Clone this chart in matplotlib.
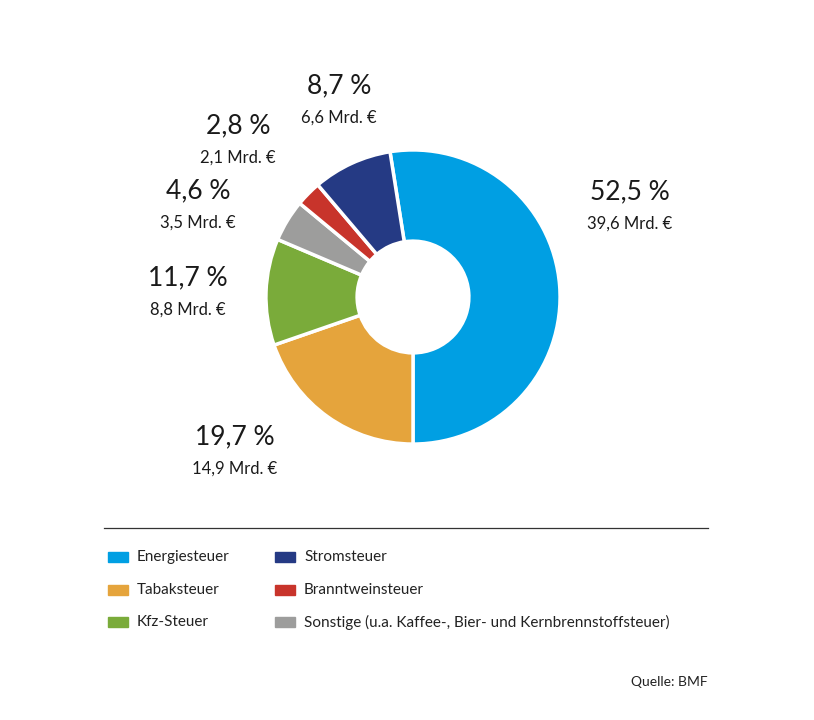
import matplotlib
matplotlib.use("Agg")
import matplotlib.pyplot as plt
from matplotlib.patches import Rectangle

categories = ["Energiesteuer", "Tabaksteuer", "Kfz-Steuer", "Sonstige (u.a. Kaffee-, Bier- und Kernbrennstoffsteuer)", "Branntweinsteuer", "Stromsteuer"]
shares = [52.5, 19.7, 11.7, 4.6, 2.8, 8.7]
pct_labels = ["52,5 %", "19,7 %", "11,7 %", "4,6 %", "2,8 %", "8,7 %"]
amount_labels = ["39,6 Mrd. €", "14,9 Mrd. €", "8,8 Mrd. €", "3,5 Mrd. €", "2,1 Mrd. €", "6,6 Mrd. €"]
colors = ["#009FE3", "#E5A43C", "#7AAB3A", "#9D9D9C", "#C8342B", "#253A84"]

plt.rcParams['font.family'] = ['Lato', 'DejaVu Sans']
W, H = 814, 720
fig = plt.figure(figsize=(W/100, H/100), dpi=100)

def fx(x): return x / W
def fy(y): return 1 - y / H

ax = fig.add_axes([fx(263), fy(447), 300/W, 300/H])
ax.pie(shares, colors=colors, startangle=99, counterclock=False, radius=1,
       wedgeprops=dict(width=0.62, edgecolor="white", linewidth=2.5))
ax.set_xlim(-1.02, 1.02); ax.set_ylim(-1.02, 1.02); ax.set_aspect("equal"); ax.axis("off")

# label positions (pixel centres of the percentage text) and alignment
pos = [(630, 192, "center"), (235, 437, "center"), (188, 278, "center"),
       (198, 191, "center"), (238, 126, "center"), (339, 86, "center")]
for (x, y, ha), p, a in zip(pos, pct_labels, amount_labels):
    fig.text(fx(x), fy(y), p, ha=ha, va="center", fontsize=19, color="#1a1a1a")
    fig.text(fx(x), fy(y + 32), a, ha=ha, va="center", fontsize=12, color="#1a1a1a")

fig.add_artist(plt.Line2D([fx(104), fx(708)], [fy(528), fy(528)], color="#333333", lw=0.9))

legend_pos = [(108, 557), (108, 590), (108, 622), (275, 622), (275, 590), (275, 557)]
for (x, y), c, name in zip(legend_pos, colors, categories):
    fig.add_artist(Rectangle((fx(x), fy(y + 5)), 20/W, 10/H, color=c, transform=fig.transFigure))
    fig.text(fx(x + 29), fy(y), name, ha="left", va="center", fontsize=11, color="#222222")

fig.text(fx(708), fy(682), "Quelle: BMF", ha="right", va="center", fontsize=10, color="#222222")
fig.savefig("out.png", dpi=100, facecolor="white")
